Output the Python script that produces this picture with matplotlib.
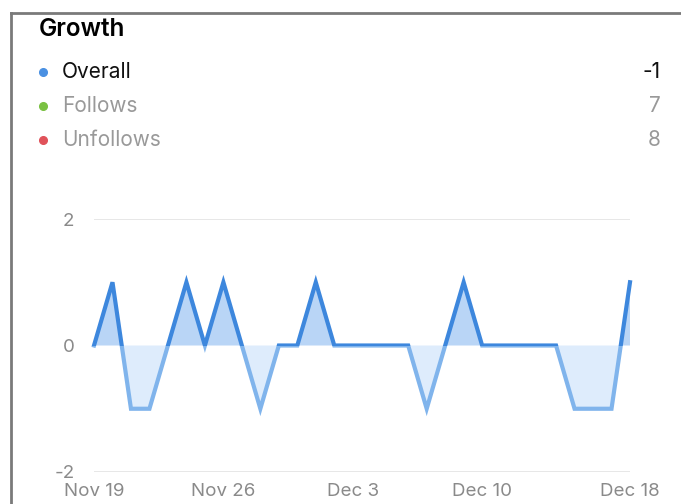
import matplotlib.pyplot as plt
from matplotlib.patches import Rectangle
from matplotlib.lines import Line2D

plt.rcParams['font.family'] = ['Inter', 'DejaVu Sans']

# daily net growth, Nov 19 .. Dec 18
days = list(range(30))
growth = [0, 1, -1, -1, 0, 1, 0, 1, 0, -1,
          0, 0, 1, 0, 0, 0, 0, 0, -1, 0,
          1, 0, 0, 0, 0, 0, -1, -1, -1, 1]
tick_days = [0, 7, 14, 21, 29]
tick_labels = ['Nov 19', 'Nov 26', 'Dec 3', 'Dec 10', 'Dec 18']

legend_names = ['Overall', 'Follows', 'Unfollows']
legend_values = ['-1', '7', '8']
legend_dots = ['#4a90e2', '#7ac143', '#e0525a']
legend_text = ['#111111', '#999999', '#999999']

W, H = 681, 504
fig = plt.figure(figsize=(W / 100, H / 100), dpi=100)
fig.patch.set_facecolor('white')

# card border (top and left only)
fig.add_artist(Line2D([11 / W, 1], [1 - 13 / H, 1 - 13 / H], color='#7a7a7a', lw=2))
fig.add_artist(Line2D([11 / W, 11 / W], [0, 1 - 13 / H], color='#7a7a7a', lw=2))

fig.text(39 / W, 1 - 30 / H, 'Growth', fontsize=17.5, fontweight='semibold', color='black', va='center')
for i, name in enumerate(legend_names):
    y = 1 - (72 + 34 * i) / H
    fig.add_artist(Line2D([43 / W], [y], marker='o', markersize=5.5, color=legend_dots[i], lw=0))
    fig.text(62 / W, y, name, fontsize=15, color=legend_text[i], va='center')
    fig.text(661 / W, y, legend_values[i], fontsize=15, color=legend_text[i], va='center', ha='right')

ax = fig.add_axes([94 / W, 32 / H, 536 / W, 253 / H])
ax.set_xlim(0, 29)
ax.set_ylim(-2, 2)

for g in [-2, 2]:
    ax.axhline(g, color='#e3e3e3', lw=1.2, zorder=0)

ax.fill_between(days, growth, 0, where=[v >= 0 for v in growth], interpolate=True,
                color='#b9d5f6', lw=0, zorder=1)
ax.fill_between(days, growth, 0, where=[v <= 0 for v in growth], interpolate=True,
                color='#deecfc', lw=0, zorder=1)

up, = ax.plot(days, growth, color='#3d87dd', lw=3, zorder=3, solid_joinstyle='miter')
down, = ax.plot(days, growth, color='#80b4ec', lw=3, zorder=2, solid_joinstyle='miter')
up.set_clip_path(Rectangle((-1, 0), 31, 3, transform=ax.transData))
down.set_clip_path(Rectangle((-1, -3), 31, 3, transform=ax.transData))

ax.set_xticks(tick_days)
ax.set_xticklabels(tick_labels)
ax.set_yticks([-2, 0, 2])
ax.set_yticklabels(['-2', '0', '2'])
ax.tick_params(length=0, colors='#8a8a8a', labelsize=13.5)
ax.tick_params(axis='y', pad=14)
ax.tick_params(axis='x', pad=8)
for s in ax.spines.values():
    s.set_visible(False)

fig.savefig('out.png', dpi=100)
